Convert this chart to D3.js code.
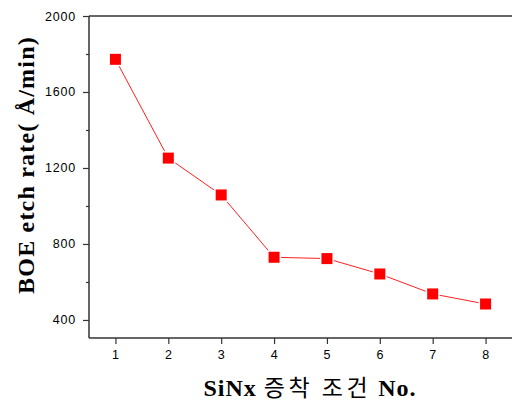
<!DOCTYPE html>
<html><head><meta charset="utf-8">
<script src="https://cdn.jsdelivr.net/npm/d3@7"></script>
<style>body{margin:0;background:#fff}svg{display:block}</style>
</head><body>
<svg id="c" width="512" height="407"></svg>
<script>
const conditions = [1, 2, 3, 4, 5, 6, 7, 8];
const etchRate = [1772, 1252, 1058, 730, 723, 642, 537, 484];
const yMajorTicks = [400, 800, 1200, 1600, 2000];
const yMinorTicks = [600, 1000, 1400, 1800];
const xTitle = ["SiNx ", "증착 조건", " No."];
const yTitle = "BOE etch rate( Å/min)";

const svg = d3.select("#c");
const x = d3.scaleLinear().domain([0.5, 8.5]).range([89, 512]);
const y = d3.scaleLinear().domain([305, 2000]).range([338, 16]);
const axisColor = "#333";

svg.append("line").attr("x1", 89).attr("x2", 512).attr("y1", y(2000)).attr("y2", y(2000))
  .attr("stroke", axisColor).attr("stroke-width", 1.5);

const gy = svg.append("g").attr("transform", "translate(89,0)")
  .call(d3.axisLeft(y).tickValues(yMajorTicks).tickSize(6).tickPadding(7).tickFormat(d3.format("d")));
const gym = svg.append("g").attr("transform", "translate(89,0)")
  .call(d3.axisLeft(y).tickValues(yMinorTicks).tickSize(3).tickFormat(""));
gym.select(".domain").remove();

const gx = svg.append("g").attr("transform", "translate(0,338)")
  .call(d3.axisBottom(x).tickValues(conditions).tickSize(6).tickPadding(6).tickFormat(d3.format("d")));

[gy, gx, gym].forEach(g => {
  g.select(".domain").attr("stroke", axisColor).attr("stroke-width", 1.5);
  g.selectAll(".tick line").attr("stroke", axisColor).attr("stroke-width", 1.2);
  g.selectAll(".tick text").attr("fill", "#000")
    .style("font-family", "'Liberation Sans', Arial, sans-serif")
    .style("font-size", "12.5px").style("letter-spacing", "0.8px");
});
gy.select(".domain").attr("d", "M0," + y(2000) + "V338");
gx.select(".domain").attr("d", "M89,0H512");

const data = conditions.map((c, i) => ({c, v: etchRate[i]}));

svg.append("path").datum(data)
  .attr("fill", "none").attr("stroke", "#ff2020").attr("stroke-width", 1)
  .attr("d", d3.line().x(d => x(d.c)).y(d => y(d.v)));

svg.selectAll("rect.pt").data(data).join("rect").attr("class", "pt")
  .attr("x", d => x(d.c) - 5.5).attr("y", d => y(d.v) - 5.5)
  .attr("width", 11).attr("height", 11)
  .attr("fill", "#ff0000").attr("stroke", "#fff").attr("stroke-width", 3)
  .attr("paint-order", "stroke");

// x title
const xt = svg.append("text").attr("x", 310).attr("y", 396).attr("text-anchor", "middle")
  .style("font-size", "24px");
xt.append("tspan").text(xTitle[0]).style("font-family", "'Liberation Serif', 'Times New Roman', serif").style("font-weight", "bold").style("letter-spacing", "1px");
xt.append("tspan").text(xTitle[1]).style("font-family", "'Noto Sans CJK KR', sans-serif").style("font-weight", "normal").style("font-size", "23px").style("letter-spacing", "3.5px");
xt.append("tspan").text(xTitle[2]).style("font-family", "'Liberation Serif', 'Times New Roman', serif").style("font-weight", "bold").style("letter-spacing", "1px");

// y title
svg.append("text").attr("transform", "translate(34,165) rotate(-90)").attr("text-anchor", "middle")
  .style("font-family", "'Liberation Serif', 'Times New Roman', serif").style("font-weight", "bold")
  .style("font-size", "24px").style("letter-spacing", "1.2px").text(yTitle);
</script>
</body></html>
